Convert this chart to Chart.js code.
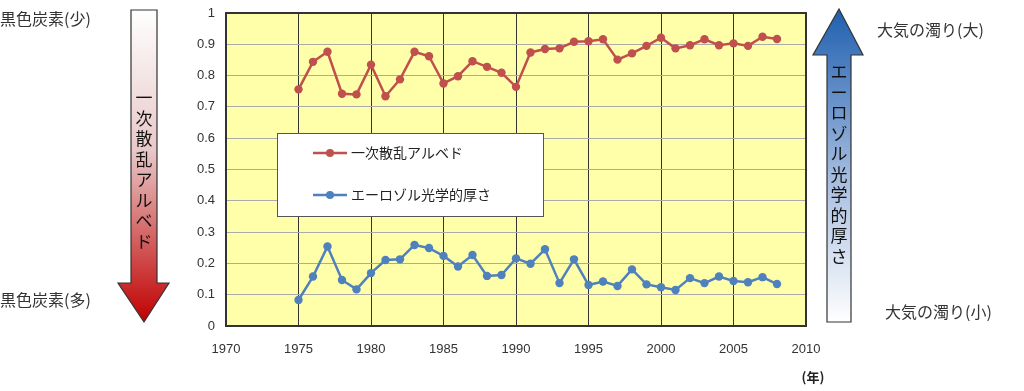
<!DOCTYPE html>
<html><head><meta charset="utf-8">
<script src="https://cdn.jsdelivr.net/npm/chart.js@4/dist/chart.umd.min.js"></script>
<style>html,body{margin:0;padding:0;background:#fff;}#wrap{position:relative;width:1024px;height:391px;}</style>
</head><body><div id="wrap"><canvas id="c" width="1024" height="391"></canvas></div>
<script>
const years = [1975,1976,1977,1978,1979,1980,1981,1982,1983,1984,1985,1986,1987,1988,1989,1990,1991,1992,1993,1994,1995,1996,1997,1998,1999,2000,2001,2002,2003,2004,2005,2006,2007,2008];
const albedo = [0.756,0.844,0.876,0.742,0.740,0.835,0.734,0.788,0.876,0.862,0.775,0.798,0.846,0.828,0.809,0.764,0.874,0.885,0.887,0.908,0.910,0.916,0.851,0.871,0.895,0.921,0.887,0.897,0.916,0.897,0.903,0.895,0.924,0.917];
const aod = [0.083,0.158,0.254,0.147,0.117,0.169,0.211,0.213,0.259,0.249,0.224,0.190,0.227,0.160,0.163,0.216,0.199,0.245,0.137,0.213,0.131,0.142,0.128,0.181,0.133,0.124,0.115,0.153,0.137,0.158,0.144,0.140,0.156,0.134];
const seriesNames = ['一次散乱アルベド','エーロゾル光学的厚さ'];
const xTicks = [1970,1975,1980,1985,1990,1995,2000,2005,2010];
const yTicks = [0,0.1,0.2,0.3,0.4,0.5,0.6,0.7,0.8,0.9,1];
const RED = '#C0504D', BLUE = '#4F81BD';
const JP = '"Noto Sans CJK JP", sans-serif';

const decor = {
  id:'decor',
  beforeDraw(chart){
    const {ctx, chartArea:a} = chart;
    ctx.save(); ctx.fillStyle='#FFFFAA'; ctx.fillRect(a.left,a.top,a.right-a.left,a.bottom-a.top); ctx.restore();
  },
  afterDraw(chart){
    const {ctx, chartArea:a} = chart;
    ctx.save();
    ctx.strokeStyle='#333'; ctx.lineWidth=2;
    ctx.strokeRect(a.left,a.top,a.right-a.left,a.bottom-a.top);
    ctx.fillStyle='#fff'; ctx.fillRect(277,133,266,83);
    ctx.strokeStyle='#555'; ctx.lineWidth=1; ctx.strokeRect(277.5,133.5,266,83);
    const items=[[RED,153],[BLUE,195]];
    ctx.font='14px '+JP; ctx.textBaseline='middle'; ctx.textAlign='left';
    items.forEach(([col,y],i)=>{
      ctx.strokeStyle=col; ctx.lineWidth=2.5; ctx.beginPath(); ctx.moveTo(313,y); ctx.lineTo(347,y); ctx.stroke();
      ctx.fillStyle=col; ctx.beginPath(); ctx.arc(330,y,4,0,Math.PI*2); ctx.fill();
      ctx.fillStyle='#222'; ctx.fillText(seriesNames[i],351,y);
    });
    ctx.font='bold 13px '+JP; ctx.fillStyle='#222'; ctx.textAlign='center';
    ctx.fillText('(年)',813,377);
    let g=ctx.createLinearGradient(0,10,0,322);
    g.addColorStop(0,'#ffffff'); g.addColorStop(0.45,'#E8C8C8'); g.addColorStop(1,'#C00000');
    ctx.beginPath();
    ctx.moveTo(131,10);ctx.lineTo(157,10);ctx.lineTo(157,283);ctx.lineTo(169,283);ctx.lineTo(144,322);ctx.lineTo(118,283);ctx.lineTo(131,283);ctx.closePath();
    ctx.fillStyle=g; ctx.fill(); ctx.strokeStyle='#333'; ctx.lineWidth=1.2; ctx.stroke();
    g=ctx.createLinearGradient(0,9,0,322);
    g.addColorStop(0,'#1F5FAF'); g.addColorStop(0.55,'#A8BEE0'); g.addColorStop(1,'#ffffff');
    ctx.beginPath();
    ctx.moveTo(839,9);ctx.lineTo(863,55);ctx.lineTo(851,55);ctx.lineTo(851,322);ctx.lineTo(827,322);ctx.lineTo(827,55);ctx.lineTo(813,55);ctx.closePath();
    ctx.fillStyle=g; ctx.fill(); ctx.strokeStyle='#333'; ctx.lineWidth=1.2; ctx.stroke();
    ctx.fillStyle='#111'; ctx.font='17px '+JP; ctx.textAlign='center'; ctx.textBaseline='middle';
    const v1='一次散乱アルベド';
    for(let i=0;i<v1.length;i++){ ctx.fillText(v1[i],144,98+i*20.5); }
    const v2='エーロゾル光学的厚さ';
    for(let i=0;i<v2.length;i++){ ctx.fillText(v2[i],839,72+i*20.5); }
    ctx.font='16px '+JP; ctx.fillStyle='#333'; ctx.textAlign='left';
    ctx.fillText('黒色炭素(少)',0,19);
    ctx.fillText('黒色炭素(多)',0,300);
    ctx.fillText('大気の濁り(大)',877,30);
    ctx.fillText('大気の濁り(小)',885,312);
    ctx.restore();
  }
};

new Chart(document.getElementById('c'),{
  type:'line',
  data:{datasets:[
    {label:seriesNames[0],data:years.map((y,i)=>({x:y,y:albedo[i]})),borderColor:RED,backgroundColor:RED,borderWidth:2.5,pointRadius:4.2,pointBackgroundColor:RED,pointBorderWidth:0,tension:0},
    {label:seriesNames[1],data:years.map((y,i)=>({x:y,y:aod[i]})),borderColor:BLUE,backgroundColor:BLUE,borderWidth:2.5,pointRadius:4.2,pointBackgroundColor:BLUE,pointBorderWidth:0,tension:0}
  ]},
  options:{
    responsive:false,animation:false,
    layout:{autoPadding:false,padding:{left:0,right:218,top:13,bottom:0}},
    plugins:{legend:{display:false},tooltip:{enabled:false}},
    scales:{
      x:{type:'linear',min:1970,max:2010,
        afterBuildTicks(s){s.ticks=xTicks.map(v=>({value:v}));},
        afterFit(s){s.height=65;s.paddingLeft=0;s.paddingRight=0;},
        ticks:{color:'#333',font:{size:13,family:'"Liberation Sans", sans-serif'},padding:16,maxRotation:0,autoSkip:false,callback:v=>String(v)},
        grid:{color:'#333',lineWidth:1,drawTicks:false},border:{display:false}},
      y:{min:0,max:1,
        afterBuildTicks(s){s.ticks=yTicks.map(v=>({value:v}));},
        afterFit(s){s.width=226;s.paddingTop=0;s.paddingBottom=0;},
        ticks:{color:'#333',font:{size:13,family:'"Liberation Sans", sans-serif'},padding:11,callback:v=>String(Math.round(v*10)/10)},
        grid:{color:'#AAAAAA',lineWidth:1,drawTicks:false},border:{display:false}}
    }
  },
  plugins:[decor]
});
</script></body></html>
